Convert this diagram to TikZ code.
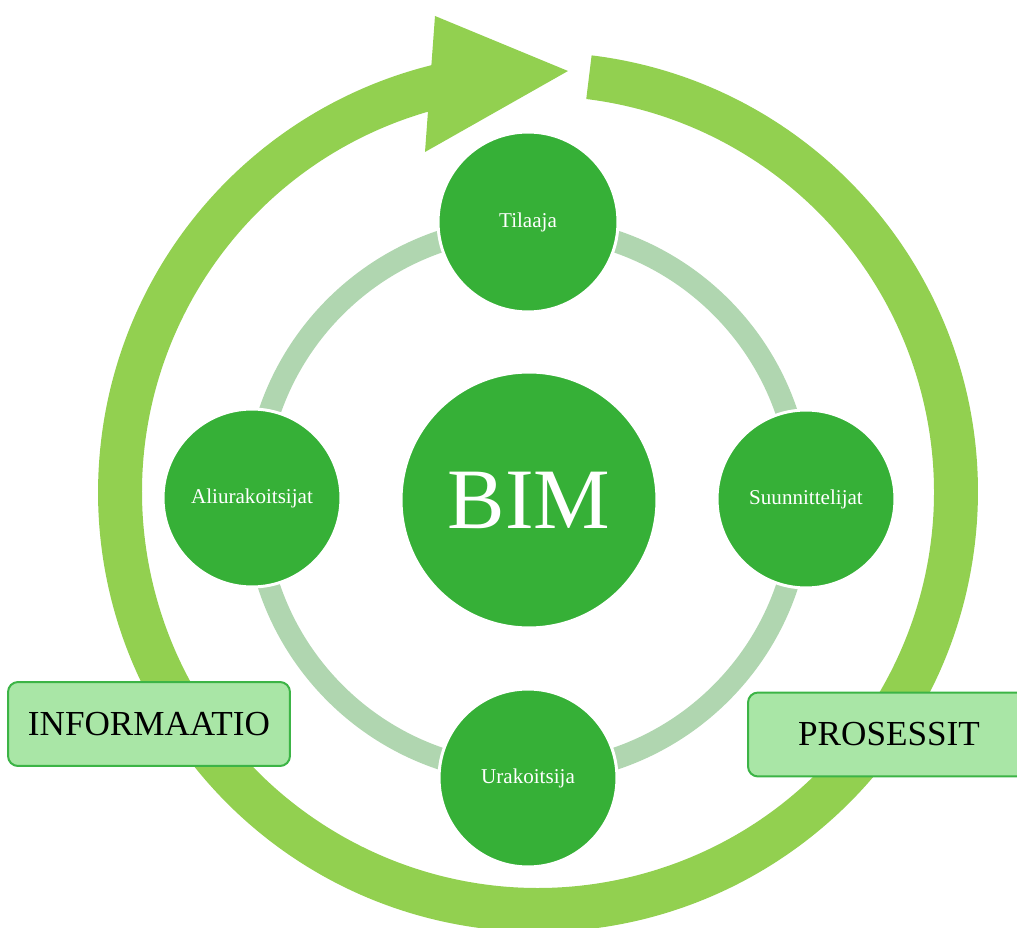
\documentclass[tikz,border=0pt]{standalone}
\usepackage{fontspec}
\setmainfont{Liberation Serif}
\usetikzlibrary{calc}
\definecolor{ringgreen}{RGB}{146,208,80}
\definecolor{palegreen}{RGB}{176,214,176}
\definecolor{nodegreen}{RGB}{54,176,55}
\definecolor{boxfill}{RGB}{169,230,166}
\definecolor{boxline}{RGB}{60,180,70}

\begin{document}
\begin{tikzpicture}[x=0.02cm,y=0.02cm,
  member/.style={circle, fill=nodegreen, draw=white, line width=0.06cm,
    minimum size=3.56cm, inner sep=0pt, text=white,
    font=\fontsize{12}{14}\selectfont},
  hub/.style={member, minimum size=5.12cm, font=\fontsize{49}{55}\selectfont},
  tag/.style={rectangle, rounded corners=0.2cm, fill=boxfill, draw=boxline,
    line width=0.04cm, minimum width=5.64cm, minimum height=1.68cm,
    inner sep=0pt, text=black, font=\fontsize{20}{24}\selectfont}]
\useasboundingbox (0,0) rectangle (1017,-928);

\coordinate (loopc) at (538,-492);
\coordinate (hubc) at (528,-500);

% outer process loop, open at the top, ending in an arrowhead
\fill[ringgreen] ($(loopc)+(83:8.8cm)$)
  arc[start angle=83, end angle=-256.2, radius=8.8cm]
  -- ($(loopc)+(105.8:7.92cm)$)
  arc[start angle=-254.2, end angle=83, radius=7.92cm] -- cycle;
\fill[ringgreen] (435,-16) -- (568,-71) -- (425,-152) -- cycle;

% inner ring linking the parties
\draw[palegreen, line width=0.44cm] (hubc) circle[radius=5.46cm];

% parties
\node[hub] (bim) at (529,-500) {BIM};
\node[member, minimum size=3.6cm] (tilaaja) at (528,-222) {Tilaaja};
\node[member] (suunn) at (806,-499) {Suunnittelijat};
\node[member] (urak) at (528,-778) {Urakoitsija};
\node[member] (aliur) at (252,-498) {Aliurakoitsijat};

% labels
\node[tag] (info) at (149,-724) {INFORMAATIO};
\node[tag] (proc) at (889,-734.5) {PROSESSIT};
\end{tikzpicture}
\end{document}
